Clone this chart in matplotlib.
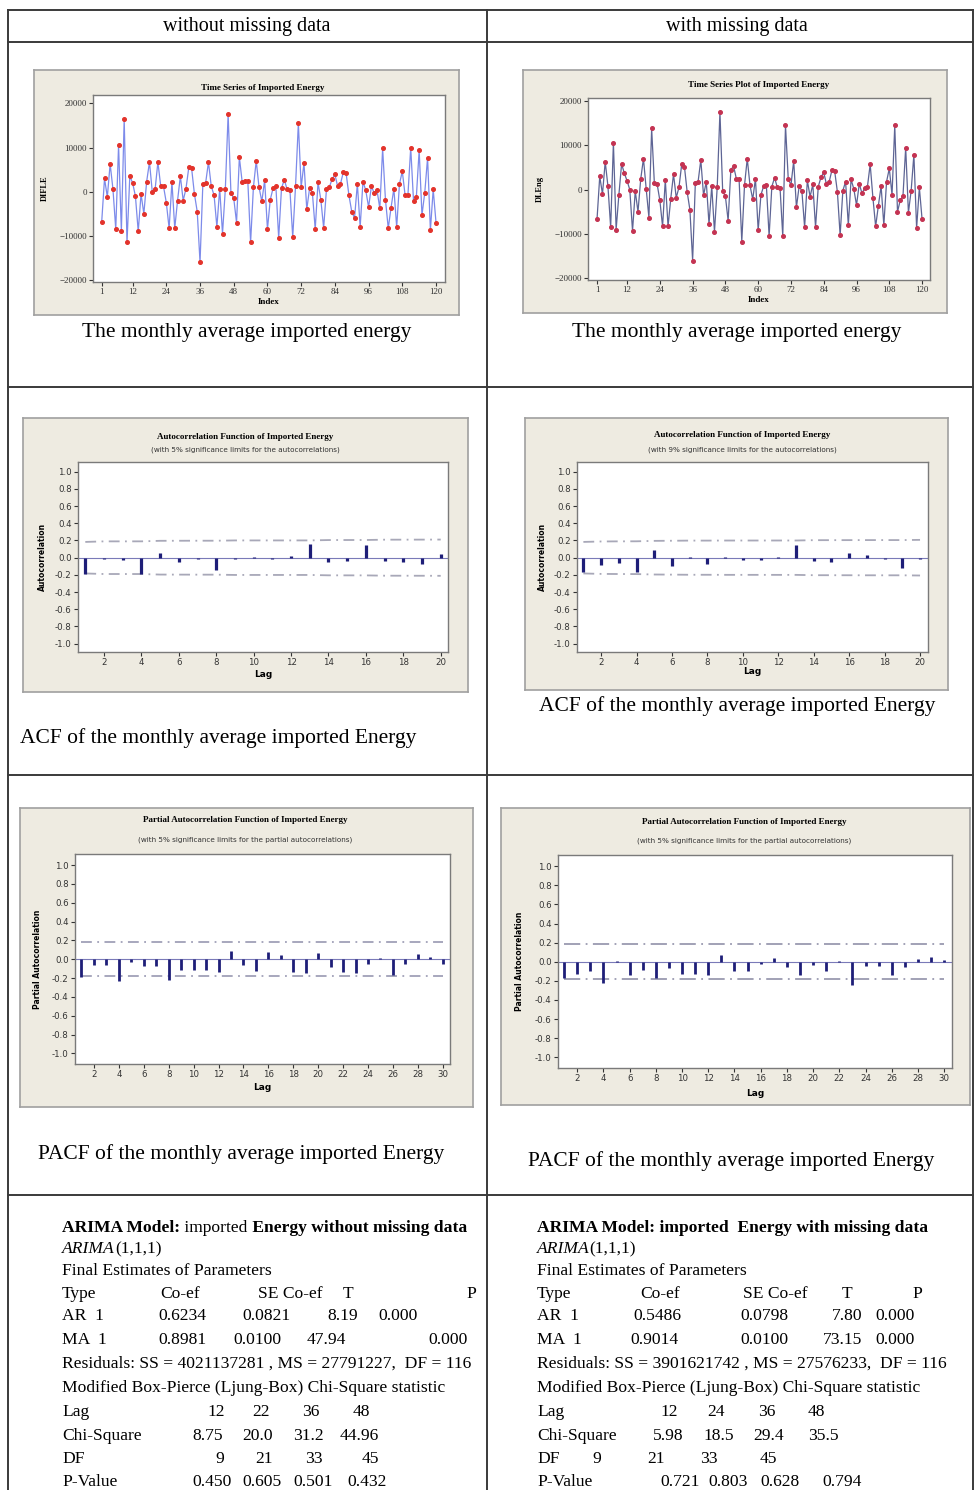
import numpy as np
import matplotlib
matplotlib.use("Agg")
import matplotlib.pyplot as plt
from matplotlib.lines import Line2D

# ---------------- data ----------------
ts_without = [-6800, 3000, -1200, 6300, 600, -8500, 10500, -9000, 16500, -11500,
              3500, 2000, -1000, -9000, -500, -5000, 2300, 6700, 0, 500,
              6700, 1300, 1200, -2500, -8300, 2200, -8300, -2000, 3500, -2000,
              700, 5500, 5300, -500, -4500, -16000, 1700, 2000, 6700, 1200,
              -800, -8000, 700, -9500, 500, 17500, -300, -1500, -7000, 7800,
              2200, 2500, 2500, -11500, 1000, 7000, 1000, -2200, 2600, -8500,
              -1800, 800, 1200, -10500, 800, 2700, 500, 400, -10300, 1300,
              15500, 1000, 6500, -4000, 800, -300, -8500, 2100, -1800, -8200,
              500, 1000, 2800, 3900, 1200, 1800, 4400, 4200, -800, -4500,
              -6000, 1800, -8000, 2300, 300, -3500, 1200, -300, 300, -3800,
              9800, -1800, -8300, -3600, 700, -8000, 1800, 4600, -800, -800,
              10000, -2200, -1200, 9400, -5300, -200, 7700, -8700, 500, -7000]

ts_with = [-6700, 3000, -1000, 6300, 800, -8500, 10600, -9000, -1200, 5800,
           3700, 2000, 0, -9300, -300, -5000, 2400, 7000, 200, -6300,
           13800, 1400, 1300, -2400, -8300, 2200, -8300, -2000, 3500, -1800,
           500, 5700, 5200, -500, -4500, -16000, 1600, 1800, 6700, -1300,
           1800, -7800, 800, -9500, 500, 17500, -300, -1500, -7000, 4500,
           5300, 2500, 2500, -11700, 1000, 7000, 1000, -2200, 2500, -9200,
           -1200, 800, 1000, -10500, 700, 2700, 500, 400, -10500, 14500,
           2500, 1000, 6500, -4000, 800, -300, -8500, 2100, -1600, 1200,
           -8500, 700, 2800, 3900, 1200, 1800, 4400, 4200, -500, -10300,
           -200, 1800, -8000, 2300, 200, -3500, 1300, -800, 300, 700,
           5700, -1800, -8300, -3600, 800, -8000, 1800, 4800, -1200, 14500,
           -5000, -2400, -1500, 9500, -5200, -200, 7900, -8700, 500, -6700]

acf_without = [-0.19, -0.02, -0.03, -0.19, 0.06, -0.05, -0.02, -0.14, -0.01, 0.005,
               -0.01, 0.02, 0.16, -0.05, -0.04, 0.15, -0.04, -0.05, -0.07, 0.04]
acf_with = [-0.17, -0.09, -0.06, -0.17, 0.09, -0.10, 0.005, -0.07, 0.01, -0.03,
            -0.03, 0.005, 0.15, -0.04, -0.05, 0.05, 0.03, -0.01, -0.12, -0.01]

pacf_without = [-0.19, -0.06, -0.06, -0.23, -0.03, -0.07, -0.07, -0.22, -0.11, -0.11,
                -0.11, -0.14, 0.09, -0.06, -0.13, 0.08, 0.04, -0.14, -0.15, 0.07,
                -0.08, -0.14, -0.15, -0.05, 0.01, -0.17, -0.05, 0.05, 0.02, -0.05]
pacf_with = [-0.17, -0.13, -0.10, -0.22, 0.01, -0.14, -0.09, -0.17, -0.06, -0.13,
             -0.13, -0.14, 0.07, -0.10, -0.10, -0.02, 0.04, -0.05, -0.14, -0.03,
             -0.10, 0.005, -0.24, -0.04, -0.04, -0.14, -0.05, 0.03, 0.05, 0.02]

n_obs = 119
header_labels = ["without missing data", "with missing data"]
ts_titles = ["Time Series of Imported Energy", "Time Series Plot of Imported Energy"]
ts_ylabels = ["DIFLE", "DI.Eng"]
ts_xticks = [1, 12, 24, 36, 48, 60, 72, 84, 96, 108, 120]
captions_ts = "The monthly average imported energy"
caption_acf = "ACF of the monthly average imported Energy"
caption_pacf = "PACF of the monthly average imported Energy"

# ---------------- figure helpers ----------------
W, H = 975, 1490
fig = plt.figure(figsize=(W / 100, H / 100), dpi=100)
fig.patch.set_facecolor('white')
SERIF = ['Liberation Serif', 'DejaVu Serif']
SANS = ['DejaVu Sans']


def add_ax(x0, y0, x1, y1):
    return fig.add_axes([x0 / W, 1 - y1 / H, (x1 - x0) / W, (y1 - y0) / H])


def frame(x0, y0, x1, y1):
    fa = add_ax(x0, y0, x1, y1)
    fa.set_facecolor('#EEEBE1')
    fa.set_xticks([])
    fa.set_yticks([])
    for sp in fa.spines.values():
        sp.set_color('#A0A0A0')
        sp.set_linewidth(1.2)
    fa.set_zorder(0)
    return fa


def fline(x0, y0, x1, y1, lw=1.4):
    fig.add_artist(Line2D([x0 / W, x1 / W], [1 - y0 / H, 1 - y1 / H],
                          transform=fig.transFigure, color='#3A3A3A', lw=lw, zorder=5))


def ftext(x, y, s, **kw):
    kw.setdefault('va', 'center')
    kw.setdefault('zorder', 6)
    return fig.text(x / W, 1 - y / H, s, **kw)


def style_ax(ax, labelsize=6):
    ax.set_zorder(2)
    ax.set_facecolor('white')
    for sp in ax.spines.values():
        sp.set_color('#7A7A7A')
        sp.set_linewidth(1.0)
    ax.tick_params(direction='out', length=3, width=0.8, colors='#333333',
                   labelsize=labelsize, pad=1.5)


# ---------------- table grid ----------------
fline(8, 10, 973, 10)
fline(8, 42, 973, 42)
fline(8, 387, 973, 387)
fline(8, 775, 973, 775)
fline(8, 1195, 973, 1195)
fline(8, 10, 8, 1490)
fline(487, 10, 487, 1490)
fline(973, 10, 973, 1490)

ftext(247, 27, header_labels[0], ha='center', fontsize=14.5, family=SERIF)
ftext(737, 27, header_labels[1], ha='center', fontsize=14.5, family=SERIF)

# ---------------- time series ----------------
ts_specs = [
    dict(frame=(34, 70, 459, 315), box=(93, 95, 445, 282), xlim=(-2.1, 123.2),
         ylim=(-20450, 21900), title_y=88, title_x=263, ylab_x=45, xlab_y=302,
         data=ts_without, line='#7D8BEA', mk='#E3332B', cap_x=247),
    dict(frame=(523, 70, 947, 313), box=(588, 98, 930, 280), xlim=(-2.3, 122.9),
         ylim=(-20380, 20680), title_y=85, title_x=759, ylab_x=540, xlab_y=300,
         data=ts_with, line='#5E6595', mk='#C43352', cap_x=737),
]
for i, sp in enumerate(ts_specs):
    frame(*sp['frame'])
    ax = add_ax(*sp['box'])
    style_ax(ax)
    idx = np.arange(1, len(sp['data']) + 1)
    ax.plot(idx, sp['data'], color=sp['line'], lw=0.9, zorder=2)
    ax.plot(idx, sp['data'], 'o', color=sp['mk'], ms=2.6, mec=sp['mk'], zorder=3)
    ax.set_xlim(*sp['xlim'])
    ax.set_ylim(*sp['ylim'])
    ax.set_xticks(ts_xticks)
    ax.set_yticks([-20000, -10000, 0, 10000, 20000])
    for lab in ax.get_xticklabels() + ax.get_yticklabels():
        lab.set_family(SERIF)
        lab.set_fontsize(6.5)
    ftext(sp['title_x'], sp['title_y'], ts_titles[i], ha='center',
          fontsize=6.5, fontweight='bold', family=SERIF)
    ftext(sp['ylab_x'], (sp['box'][1] + sp['box'][3]) / 2, ts_ylabels[i],
          ha='center', rotation=90, fontsize=6, fontweight='bold', family=SERIF)
    ftext((sp['box'][0] + sp['box'][2]) / 2, sp['xlab_y'], 'Index', ha='center',
          fontsize=6.5, fontweight='bold', family=SERIF)
    ftext(sp['cap_x'], 333, captions_ts, ha='center', fontsize=15.5, family=SERIF)


# ---------------- ACF / PACF ----------------
def bartlett_limits(r, n):
    r = np.asarray(r)
    lim = []
    for k in range(len(r)):
        s = 1 + 2 * np.sum(r[:k] ** 2)
        lim.append(2 * np.sqrt(s / n))
    return np.array(lim)


corr_specs = [
    dict(frame=(23, 418, 468, 692), box=(78, 462, 448, 652), xlim=(0.61, 20.39),
         ylim=(-1.097, 1.113), title=("Autocorrelation Function of Imported Energy",
                                      "(with 5% significance limits for the autocorrelations)"),
         ty=(437, 450), tx=245, ylab='Autocorrelation', ylab_x=42, xlab_y=675,
         vals=acf_without, kind='acf', lw=2.3, dash=(0, (6, 3, 1, 3)), limc='#A8A8B8'),
    dict(frame=(525, 418, 948, 690), box=(577, 462, 928, 652), xlim=(0.64, 20.45),
         ylim=(-1.097, 1.113), title=("Autocorrelation Function of Imported Energy",
                                      "(with 9% significance limits for the autocorrelations)"),
         ty=(435, 450), tx=742, ylab='Autocorrelation', ylab_x=542, xlab_y=672,
         vals=acf_with, kind='acf', lw=2.3, dash=(0, (6, 3, 1, 3)), limc='#A8A8B8'),
    dict(frame=(20, 808, 473, 1107), box=(75, 854, 450, 1064), xlim=(0.48, 30.58),
         ylim=(-1.113, 1.117), title=("Partial Autocorrelation Function of Imported Energy",
                                      "(with 5% significance limits for the partial autocorrelations)"),
         ty=(820, 840), tx=245, ylab='Partial Autocorrelation', ylab_x=38, xlab_y=1088,
         vals=pacf_without, kind='pacf', lw=2.0, dash=(0, (6, 3, 1, 3)), limc='#A0A0B8'),
    dict(frame=(501, 808, 970, 1105), box=(558, 855, 952, 1068), xlim=(0.53, 30.6),
         ylim=(-1.112, 1.118), title=("Partial Autocorrelation Function of Imported Energy",
                                      "(with 5% significance limits for the partial autocorrelations)"),
         ty=(822, 841), tx=744, ylab='Partial Autocorrelation', ylab_x=520, xlab_y=1093,
         vals=pacf_with, kind='pacf', lw=2.0, dash=(0, (9, 3, 1, 3)), limc='#9A9AB0'),
]

yt = [-1.0, -0.8, -0.6, -0.4, -0.2, 0.0, 0.2, 0.4, 0.6, 0.8, 1.0]
for cs in corr_specs:
    frame(*cs['frame'])
    ax = add_ax(*cs['box'])
    style_ax(ax, labelsize=6.2)
    lags = np.arange(1, len(cs['vals']) + 1)
    if cs['kind'] == 'acf':
        lim = bartlett_limits(cs['vals'], n_obs)
    else:
        lim = np.full(len(lags), 2 / np.sqrt(n_obs))
    ax.axhline(0, color='#7A7AB8', lw=0.8, zorder=1)
    ax.plot(lags, lim, color=cs['limc'], lw=1.3, ls=cs['dash'], zorder=1)
    ax.plot(lags, -lim, color=cs['limc'], lw=1.3, ls=cs['dash'], zorder=1)
    ax.vlines(lags, 0, cs['vals'], color='#1E1E78', lw=cs['lw'], zorder=3)
    ax.set_xlim(*cs['xlim'])
    ax.set_ylim(*cs['ylim'])
    ax.set_xticks(np.arange(2, len(lags) + 1, 2))
    ax.set_yticks(yt)
    ax.set_yticklabels(['%.1f' % v for v in yt])
    ftext(cs['tx'], cs['ty'][0], cs['title'][0], ha='center', fontsize=6.5,
          fontweight='bold', family=SERIF)
    ftext(cs['tx'], cs['ty'][1], cs['title'][1], ha='center', fontsize=5.2, family=SANS,
          color='#333333')
    ftext(cs['ylab_x'], (cs['box'][1] + cs['box'][3]) / 2, cs['ylab'], ha='center',
          rotation=90, fontsize=5.5, fontweight='bold', family=SANS)
    ftext((cs['box'][0] + cs['box'][2]) / 2, cs['xlab_y'], 'Lag', ha='center',
          fontsize=6.5, fontweight='bold', family=SANS)

ftext(20, 738, caption_acf, ha='left', fontsize=15.5, family=SERIF)
ftext(737, 706, caption_acf, ha='center', fontsize=15.5, family=SERIF)
ftext(38, 1154, caption_pacf, ha='left', fontsize=15.5, family=SERIF)
ftext(528, 1161, caption_pacf, ha='left', fontsize=15.5, family=SERIF)

# ---------------- ARIMA text blocks ----------------
renderer = fig.canvas.get_renderer()
FS = 12.6


def runs(x, y, parts):
    cx = x
    for s, kw in parts:
        t = fig.text(cx / W, 1 - y / H, s, fontsize=FS, family=SERIF, va='center',
                     ha='left', **kw)
        cx += t.get_window_extent(renderer=renderer).width


def cols(y, items):
    for x, s in items:
        fig.text(x / W, 1 - y / H, s, fontsize=FS, family=SERIF, va='center', ha='left')


line_y = [1228, 1249, 1271, 1294, 1316, 1340, 1364, 1388, 1412, 1436, 1459, 1482]
B = dict(fontweight='bold')
N = dict()
I = dict(style='italic')

# left block
xl = 62
runs(xl, line_y[0], [("ARIMA Model:", B), (" imported", N),
                     (" Energy without missing data", B)])
runs(xl, line_y[1], [("ARIMA", I), ("(1,1,1)", N)])
cols(line_y[2], [(xl, "Final Estimates of Parameters")])
cols(line_y[3], [(xl, "Type"), (160, "Co-ef"), (258, "SE Co-ef"), (343, "T"), (466, "P")])
cols(line_y[4], [(xl, "AR  1"), (158, "0.6234"), (242, "0.0821"), (327, "8.19"), (378, "0.000")])
cols(line_y[5], [(xl, "MA  1"), (158, "0.8981"), (233, "0.0100"), (307, "47.94"), (428, "0.000")])
cols(line_y[6], [(xl, "Residuals: SS = 4021137281 , MS = 27791227,  DF = 116")])
cols(line_y[7], [(xl, "Modified Box-Pierce (Ljung-Box) Chi-Square statistic")])
cols(line_y[8], [(xl, "Lag"), (207, "12"), (252, "22"), (302, "36"), (353, "48")])
cols(line_y[9], [(xl, "Chi-Square"), (192, "8.75"), (242, "20.0"), (293, "31.2"), (340, "44.96")])
cols(line_y[10], [(xl, "DF"), (215, "9"), (255, "21"), (305, "33"), (362, "45")])
cols(line_y[11], [(xl, "P-Value"), (192, "0.450"), (242, "0.605"), (293, "0.501"), (347, "0.432")])

# right block
xr = 537
runs(xr, line_y[0], [("ARIMA Model: imported  Energy with missing data", B)])
runs(xr, line_y[1], [("ARIMA", I), ("(1,1,1)", N)])
cols(line_y[2], [(xr, "Final Estimates of Parameters")])
cols(line_y[3], [(xr, "Type"), (640, "Co-ef"), (743, "SE Co-ef"), (842, "T"), (912, "P")])
cols(line_y[4], [(xr, "AR  1"), (633, "0.5486"), (740, "0.0798"), (832, "7.80"), (875, "0.000")])
cols(line_y[5], [(xr, "MA  1"), (630, "0.9014"), (740, "0.0100"), (823, "73.15"), (875, "0.000")])
cols(line_y[6], [(xr, "Residuals: SS = 3901621742 , MS = 27576233,  DF = 116")])
cols(line_y[7], [(xr, "Modified Box-Pierce (Ljung-Box) Chi-Square statistic")])
cols(line_y[8], [(xr, "Lag"), (660, "12"), (707, "24"), (758, "36"), (808, "48")])
cols(line_y[9], [(xr, "Chi-Square"), (653, "5.98"), (703, "18.5"), (753, "29.4"), (808, "35.5")])
cols(line_y[10], [(xr, "DF"), (592, "9"), (647, "21"), (700, "33"), (760, "45")])
cols(line_y[11], [(xr, "P-Value"), (660, "0.721"), (708, "0.803"), (760, "0.628"), (822, "0.794")])

fig.savefig('out.png', dpi=100, facecolor='white')
